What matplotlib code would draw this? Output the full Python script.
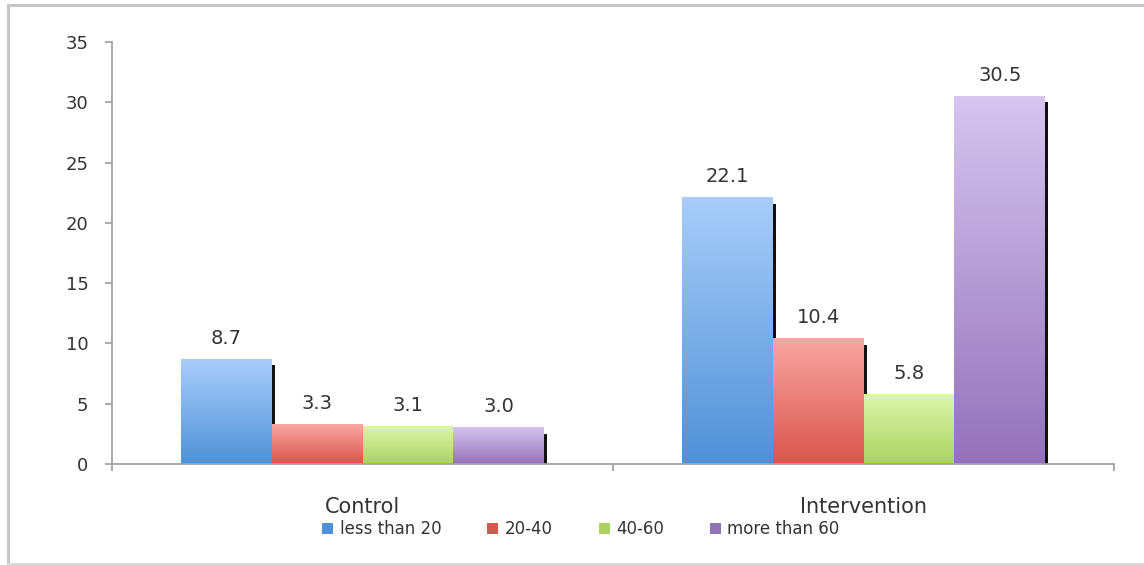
import numpy as np
import matplotlib
matplotlib.use('Agg')
import matplotlib.pyplot as plt
from matplotlib.colors import LinearSegmentedColormap
from matplotlib.patches import Patch
from matplotlib.lines import Line2D

groups = ['Control', 'Intervention']
series_names = ['less than 20', '20-40', '40-60', 'more than 60']
less_than_20 = [8.7, 22.1]
from_20_to_40 = [3.3, 10.4]
from_40_to_60 = [3.1, 5.8]
more_than_60 = [3.0, 30.5]
yticks = [0, 5, 10, 15, 20, 25, 30, 35]

# light (top) / dark (bottom) colour of each series gradient
COLORS = [
  ('#a9cdfa', '#4f91d7'),
  ('#f9a7a3', '#d9554d'),
  ('#ddf6ab', '#abd262'),
  ('#d5c5ef', '#9472ba'),
]
TEXT = '#333333'
AXIS = '#a3a3a3'

W, H = 1144, 565
fig = plt.figure(figsize=(W/100, H/100), dpi=100)
ax = fig.add_axes([112/W, 1-464/H, (1114-112)/W, (464-42)/H])

all_values = [less_than_20, from_20_to_40, from_40_to_60, more_than_60]
bar_w = 0.1816
px_x = 1/501.0
px_y = 35/422.0
grad = np.linspace(0, 1, 256).reshape(-1, 1)

for i, (name, values) in enumerate(zip(series_names, all_values)):
  light, dark = COLORS[i]
  cmap = LinearSegmentedColormap.from_list(name, [dark, light])
  xs = np.arange(len(groups)) + (i-1.5)*bar_w
  # shadow behind the bar, offset right and down
  ax.bar(xs + 3*px_x, np.array(values) - 6*px_y, width=bar_w, color='#111111', zorder=1, linewidth=0)
  for x, v in zip(xs, values):
    ax.imshow(grad, extent=[x-bar_w/2, x+bar_w/2, 0, v], origin='lower', aspect='auto',
              cmap=cmap, interpolation='bilinear', zorder=2)
    ax.annotate(f'{v:.1f}', (x, v), xytext=(0, 15), textcoords='offset points',
                ha='center', va='center', fontsize=14, color=TEXT)

ax.set_xlim(-0.5, 1.5)
ax.set_ylim(0, 35)

for side in ('top', 'right'):
  ax.spines[side].set_visible(False)
for side in ('left', 'bottom'):
  ax.spines[side].set_color(AXIS)
  ax.spines[side].set_linewidth(1.3)

ax.set_yticks(yticks)
ax.tick_params(axis='y', length=5, width=1.3, color=AXIS, pad=12, labelsize=13, labelcolor=TEXT)
ax.set_xticks(range(len(groups)))
ax.set_xticklabels(groups)
ax.set_xticks([-0.5, 0.5, 1.5], minor=True)
ax.tick_params(axis='x', which='major', length=0, pad=23.5, labelsize=15, labelcolor=TEXT)
ax.tick_params(axis='x', which='minor', length=5, width=1.3, color=AXIS)

handles = [Patch(facecolor=COLORS[i][1], edgecolor='none') for i in range(4)]
leg = fig.legend(handles, series_names, loc='center', bbox_to_anchor=(581/W, 1-529/H), ncol=4,
                 frameon=False, fontsize=12, handlelength=0.65, handleheight=0.65,
                 handletextpad=0.4, columnspacing=2.75, borderpad=0, borderaxespad=0)
for t in leg.get_texts():
  t.set_color(TEXT)

# outer chart frame
fig.add_artist(Line2D([8/W, 8/W], [1-5/H, 1-564/H], color='#c6c6c6', lw=2.2, transform=fig.transFigure))
fig.add_artist(Line2D([8/W, 1], [1-5/H, 1-5/H], color='#c6c6c6', lw=2.2, transform=fig.transFigure))
fig.add_artist(Line2D([8/W, 1], [1-564/H, 1-564/H], color='#dadada', lw=1.5, transform=fig.transFigure))

fig.savefig('out.png', dpi=100)
